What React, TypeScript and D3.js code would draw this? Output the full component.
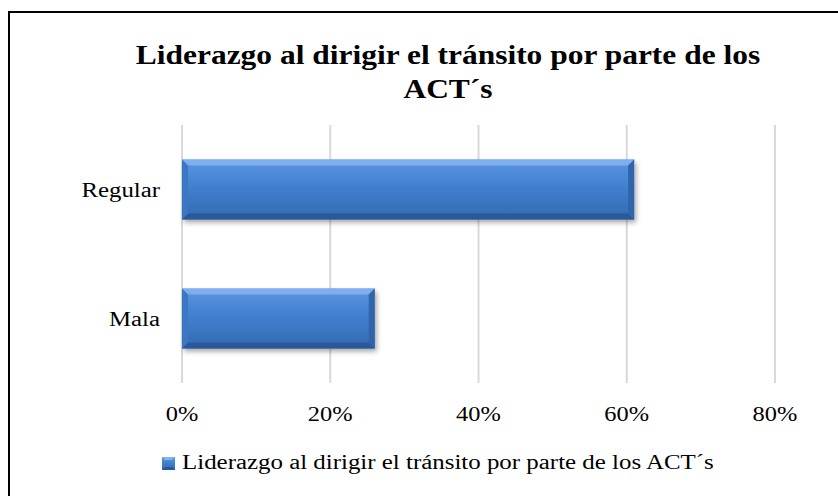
import React, { useEffect, useRef } from 'react';
import * as d3 from 'd3';

const categories = ['Regular', 'Mala'];
const values = [0.61, 0.26];
const xTicks = [0, 0.2, 0.4, 0.6, 0.8];
const titleLines = ['Liderazgo al dirigir el tránsito por parte de los', 'ACT´s'];
const seriesName = 'Liderazgo al dirigir el tránsito por parte de los ACT´s';

const FONT = '"Liberation Serif", "DejaVu Serif", serif';

// Cambria is wider than Liberation Serif, so stretch text horizontally
function widen(sel: any, k: number) {
  sel.each(function (this: SVGTextElement) {
    const w = this.getComputedTextLength();
    this.setAttribute('textLength', String(w * k));
    this.setAttribute('lengthAdjust', 'spacingAndGlyphs');
  });
}

export default function App() {
  const ref = useRef<SVGSVGElement>(null);

  useEffect(() => {
    const svg = d3.select(ref.current);
    svg.selectAll('*').remove();

    const defs = svg.append('defs');
    const grad = defs.append('linearGradient')
      .attr('id', 'barGrad').attr('x1', 0).attr('y1', 0).attr('x2', 0).attr('y2', 1);
    grad.append('stop').attr('offset', '0%').attr('stop-color', '#5d96e0');
    grad.append('stop').attr('offset', '45%').attr('stop-color', '#4180cf');
    grad.append('stop').attr('offset', '100%').attr('stop-color', '#3469b2');

    const shadow = defs.append('filter').attr('id', 'shadow')
      .attr('x', '-5%').attr('y', '-20%').attr('width', '115%').attr('height', '150%');
    shadow.append('feDropShadow')
      .attr('dx', 2).attr('dy', 3).attr('stdDeviation', 2.5)
      .attr('flood-color', '#000').attr('flood-opacity', 0.35);

    // chart frame
    svg.append('rect')
      .attr('x', 9).attr('y', 12).attr('width', 900).attr('height', 500)
      .attr('fill', '#fff').attr('stroke', '#000').attr('stroke-width', 2);

    const x = d3.scaleLinear().domain([0, 0.8]).range([182, 775]);
    const y = d3.scaleBand<string>().domain(categories).range([125, 383])
      .paddingInner(0.535).paddingOuter(0.2675);

    // gridlines
    svg.append('g').selectAll('line')
      .data(xTicks)
      .enter().append('line')
      .attr('x1', (d) => x(d)).attr('x2', (d) => x(d))
      .attr('y1', 125).attr('y2', 383)
      .attr('stroke', '#d9d9d9').attr('stroke-width', 2);

    // tick labels
    const ticks = svg.append('g').selectAll('text')
      .data(xTicks)
      .enter().append('text')
      .attr('x', (d) => x(d)).attr('y', 421)
      .attr('text-anchor', 'middle')
      .attr('font-family', FONT).attr('font-size', 20).attr('fill', '#000')
      .text((d) => d3.format('.0%')(d));
    widen(ticks, 1.22);

    // category labels
    const cats = svg.append('g').selectAll('text')
      .data(categories)
      .enter().append('text')
      .attr('x', 160).attr('y', (d) => (y(d) as number) + y.bandwidth() / 2 + 7)
      .attr('text-anchor', 'end')
      .attr('font-family', FONT).attr('font-size', 20).attr('fill', '#000')
      .text((d) => d);
    widen(cats, 1.24);

    // bevelled bars
    const bev = 6;
    const bars = svg.append('g').selectAll('g')
      .data(categories.map((c, i) => ({ c, v: values[i] })))
      .enter().append('g');

    bars.append('rect')
      .attr('x', x(0)).attr('y', (d) => y(d.c) as number)
      .attr('width', (d) => x(d.v) - x(0)).attr('height', y.bandwidth())
      .attr('fill', 'url(#barGrad)').attr('filter', 'url(#shadow)');

    const poly = (pts: number[][]) => pts.map((p) => p.join(',')).join(' ');
    // top bevel
    bars.append('polygon')
      .attr('points', (d) => {
        const x0 = x(0), x1 = x(d.v), y0 = y(d.c) as number;
        return poly([[x0, y0], [x1, y0], [x1 - bev, y0 + bev], [x0 + bev, y0 + bev]]);
      })
      .attr('fill', '#82b3ef').attr('opacity', 0.9);
    // bottom bevel
    bars.append('polygon')
      .attr('points', (d) => {
        const x0 = x(0), x1 = x(d.v), y1 = (y(d.c) as number) + y.bandwidth();
        return poly([[x0, y1], [x1, y1], [x1 - bev, y1 - bev], [x0 + bev, y1 - bev]]);
      })
      .attr('fill', '#295896').attr('opacity', 0.9);
    // left bevel
    bars.append('polygon')
      .attr('points', (d) => {
        const x0 = x(0), y0 = y(d.c) as number, y1 = y0 + y.bandwidth();
        return poly([[x0, y0], [x0 + bev, y0 + bev], [x0 + bev, y1 - bev], [x0, y1]]);
      })
      .attr('fill', '#3c77c4');
    // right bevel
    bars.append('polygon')
      .attr('points', (d) => {
        const x1 = x(d.v), y0 = y(d.c) as number, y1 = y0 + y.bandwidth();
        return poly([[x1, y0], [x1 - bev, y0 + bev], [x1 - bev, y1 - bev], [x1, y1]]);
      })
      .attr('fill', '#3064ab');

    // title
    const title = svg.append('g').selectAll('text')
      .data(titleLines)
      .enter().append('text')
      .attr('x', 448).attr('y', (d, i) => 64 + i * 34)
      .attr('text-anchor', 'middle')
      .attr('font-family', FONT).attr('font-size', 27).attr('font-weight', 'bold')
      .attr('fill', '#000')
      .text((d) => d);
    widen(title, 1.165);

    // legend
    const lg = svg.append('g');
    lg.append('rect')
      .attr('x', 162).attr('y', 457).attr('width', 13).attr('height', 13)
      .attr('fill', 'url(#barGrad)');
    lg.append('polygon')
      .attr('points', '162,457 175,457 172,460 165,460')
      .attr('fill', '#82b3ef');
    lg.append('polygon')
      .attr('points', '162,470 175,470 172,467 165,467')
      .attr('fill', '#295896');
    const lt = lg.append('text')
      .attr('x', 182).attr('y', 469)
      .attr('font-family', FONT).attr('font-size', 20).attr('fill', '#000')
      .text(seriesName);
    widen(lt, 1.245);
  }, []);

  return (
    <svg
      ref={ref}
      width={838}
      height={496}
      style={{ position: 'absolute', left: 0, top: 0, background: '#fff' }}
    />
  );
}
